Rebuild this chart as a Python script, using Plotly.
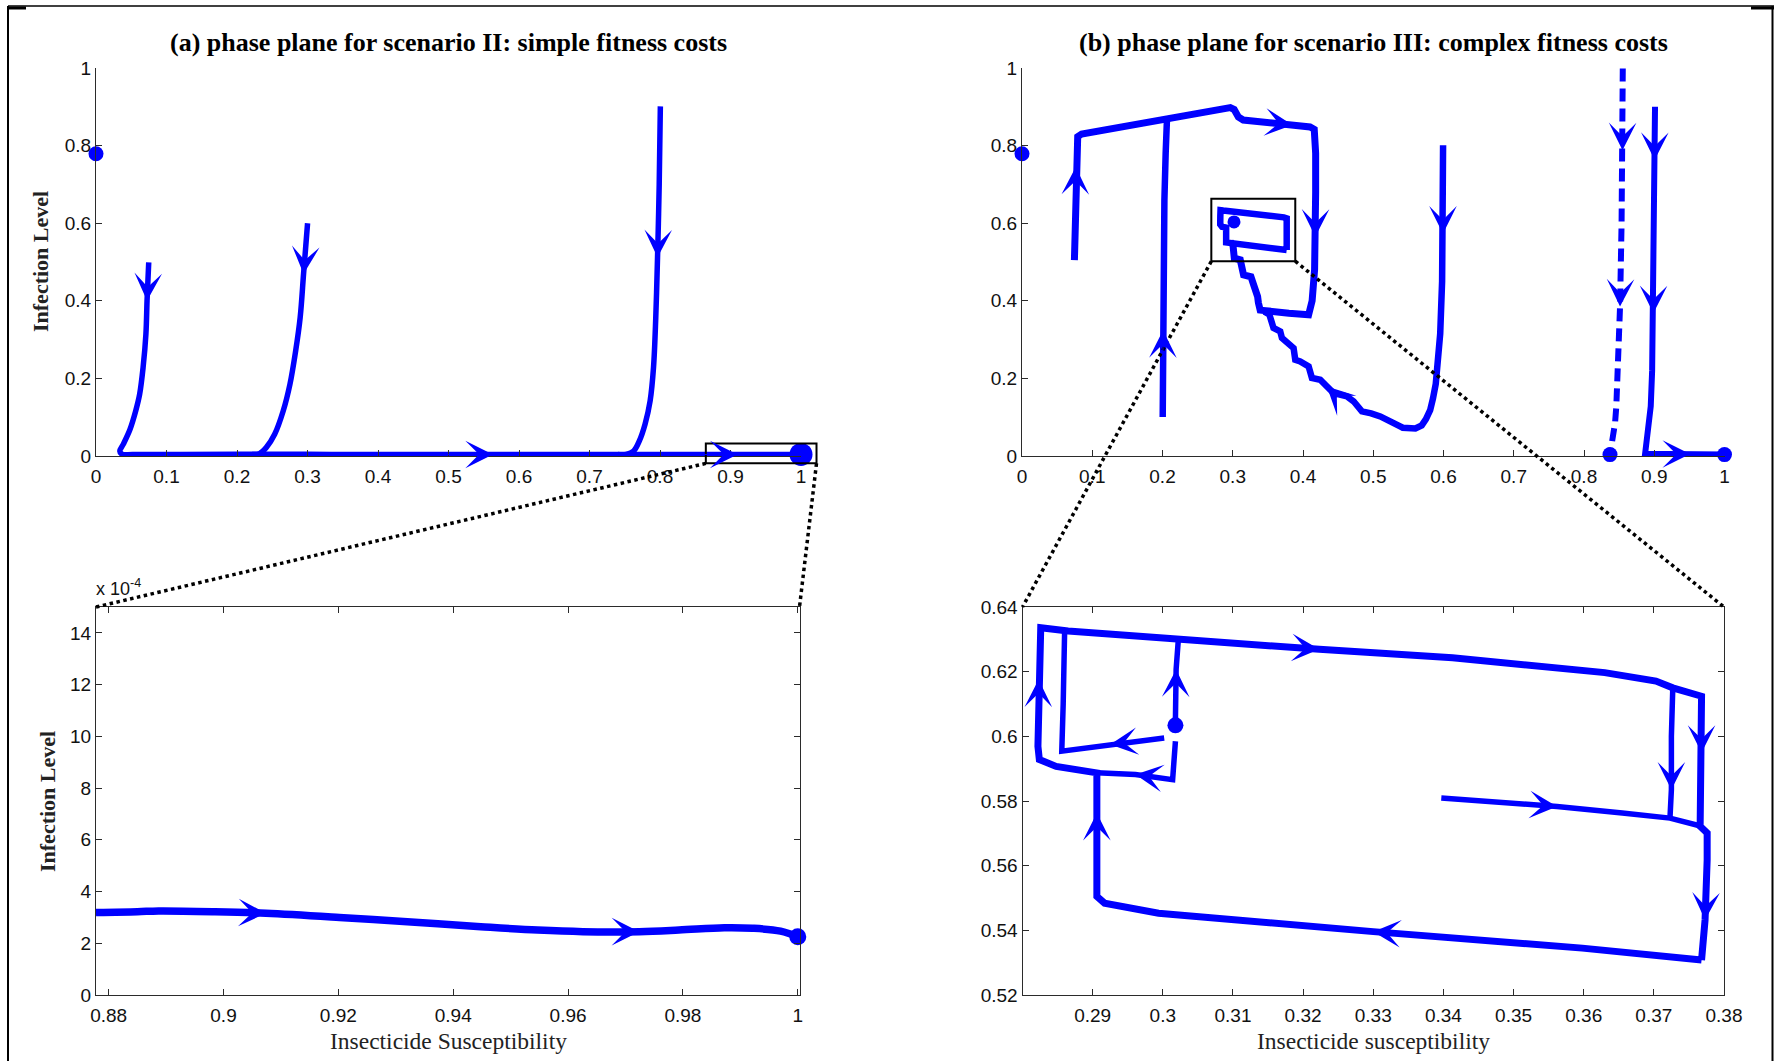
import plotly.graph_objects as go

W, H = 1774, 1061
BLUE = "#0000ff"
AXIS_COLOR = "#2b2b2b"
TICK_FONT = dict(family="Liberation Sans, Arial, sans-serif", size=19, color="#111111")
SERIF = "Liberation Serif, Times New Roman, serif"

# ---------------- panel (a): scenario II, full phase plane ----------------
a1_x = [0.0748, 0.0736, 0.0724, 0.0708, 0.0668, 0.0619, 0.0563, 0.0483, 0.0386, 0.0338,
        0.0370, 0.0520, 0.1200, 0.2000, 0.3000, 0.4000, 0.4800, 0.5630, 0.6500, 0.7500,
        0.8300, 0.9100, 0.9600, 1.0000]
a1_y = [0.499, 0.450, 0.400, 0.314, 0.228, 0.159, 0.116, 0.069, 0.030, 0.013,
        0.0045, 0.0040, 0.0040, 0.0042, 0.0042, 0.0040, 0.0040, 0.0040, 0.0040, 0.0040,
        0.0040, 0.0040, 0.0040, 0.0040]
a1_arrows = [2, 17, 21]

a2_x = [0.3001, 0.2975, 0.2944, 0.2896, 0.2832, 0.2751, 0.2655, 0.2534, 0.2414, 0.2317, 0.2212]
a2_y = [0.600, 0.540, 0.469, 0.357, 0.271, 0.185, 0.116, 0.056, 0.0215, 0.006, 0.004]
a2_arrows = [2]

a3_x = [0.8005, 0.7989, 0.7977, 0.7965, 0.7940, 0.7908, 0.7860, 0.7788, 0.7707, 0.7627, 0.7522, 0.7400]
a3_y = [0.901, 0.701, 0.600, 0.512, 0.357, 0.228, 0.142, 0.082, 0.039, 0.013, 0.0043, 0.004]
a3_arrows = [3]

a_eq_x = [0.0, 1.0]
a_eq_y = [0.779, 0.004]
a_eq_size = [15, 23]

# zoom window drawn on panel (a) and the values shown in its enlargement
a_win_x = [0.865, 1.022]
a_win_y = [-0.019, 0.032]

az_x = [0.8778, 0.8850, 0.8887, 0.8985, 0.9074, 0.9202, 0.9320, 0.9448, 0.9547, 0.9626,
        0.9724, 0.9793, 0.9872, 0.9921, 0.9970, 1.0000]
az_y_e4 = [3.19, 3.22, 3.25, 3.22, 3.16, 3.00, 2.83, 2.64, 2.51, 2.45,
           2.45, 2.51, 2.60, 2.58, 2.47, 2.25]          # infection level, units of 1e-4
az_arrows = [4, 10]
az_eq_x = [1.0]
az_eq_y_e4 = [2.25]

# ---------------- panel (b): scenario III ----------------
bA_x = [0.0746, 0.0755, 0.0765, 0.0780, 0.0793, 0.0850, 0.1500, 0.2064, 0.2600, 0.2965,
        0.3020, 0.3080, 0.3150, 0.3400, 0.3850, 0.4100, 0.4160, 0.4180, 0.4180, 0.4175,
        0.4165, 0.4130, 0.4100, 0.4080, 0.3800, 0.3450, 0.3390, 0.3365, 0.3354, 0.3300,
        0.3273, 0.3259, 0.3154, 0.3131, 0.3107, 0.3022, 0.3003, 0.2965]
bA_y = [0.505, 0.620, 0.745, 0.805, 0.823, 0.830, 0.852, 0.870, 0.885, 0.898,
        0.893, 0.874, 0.866, 0.862, 0.853, 0.848, 0.842, 0.780, 0.680, 0.565,
        0.480, 0.400, 0.375, 0.364, 0.368, 0.372, 0.376, 0.395, 0.411, 0.440,
        0.454, 0.462, 0.4668, 0.4925, 0.5054, 0.5097, 0.544, 0.5525]
bA_arrows = [2, 14, 19, 28]

bB_x = [0.2003, 0.2005, 0.2008, 0.2013, 0.2027, 0.2045, 0.2064]
bB_y = [0.1005, 0.220, 0.324, 0.450, 0.659, 0.780, 0.870]
bB_arrows = [2]

bC_x = [0.5994, 0.5993, 0.5992, 0.5980, 0.5953, 0.5920, 0.5890, 0.5850, 0.5810, 0.5750,
        0.5690, 0.5600, 0.5500, 0.5420, 0.5383, 0.5250, 0.5100, 0.4970, 0.4838, 0.4720,
        0.4625, 0.4435, 0.4340, 0.4245, 0.4127, 0.4080, 0.3960, 0.3890, 0.3866, 0.3771,
        0.3700, 0.3676, 0.3580, 0.3544, 0.3520, 0.3450]
bC_y = [0.8007, 0.700, 0.573, 0.450, 0.315, 0.240, 0.186, 0.148, 0.118, 0.095,
        0.079, 0.071, 0.070, 0.073, 0.0765, 0.090, 0.102, 0.110, 0.115, 0.141,
        0.1536, 0.1624, 0.179, 0.1966, 0.201, 0.2308, 0.2437, 0.248, 0.278, 0.291,
        0.304, 0.321, 0.330, 0.351, 0.365, 0.372]
bC_arrows = [2, 22]

bD_x = [0.8552, 0.8550, 0.8548, 0.8535, 0.8513, 0.8490, 0.8460, 0.8442, 0.8410, 0.8395, 0.8370]
bD_y = [0.9987, 0.900, 0.788, 0.600, 0.385, 0.229, 0.128, 0.085, 0.040, 0.0165, 0.0036]
bD_arrows = [2, 4]

bE_x = [0.9011, 0.9008, 0.9005, 0.8995, 0.8987, 0.8970, 0.8950, 0.8910, 0.8880, 0.8855,
        0.8870, 0.9200, 0.9510, 0.9800, 1.0000]
bE_y = [0.900, 0.830, 0.763, 0.550, 0.368, 0.220, 0.128, 0.070, 0.042, 0.012,
        0.006, 0.005, 0.005, 0.004, 0.0036]
bE_arrows = [2, 4, 12]

# limit cycle around the interior equilibrium (shown in both panels)
cyc_x = [0.3768, 0.3598, 0.3300, 0.3090, 0.2994, 0.2917, 0.2906, 0.2906, 0.2906, 0.2848,
         0.2824, 0.2822, 0.2823, 0.2826, 0.2865, 0.3022, 0.3223, 0.3413, 0.3630, 0.3703,
         0.3727, 0.3768, 0.3768, 0.3766, 0.3776, 0.3776, 0.3773, 0.3768]
cyc_y = [0.5308, 0.5345, 0.5396, 0.5432, 0.5453, 0.5484, 0.5505, 0.5763, 0.5887, 0.5907,
         0.5928, 0.5969, 0.6176, 0.6336, 0.6326, 0.6300, 0.6269, 0.6243, 0.6197, 0.6171,
         0.6150, 0.6124, 0.5949, 0.5722, 0.5701, 0.5618, 0.5432, 0.5308]
cyc_arrows = [2, 7, 12, 16, 22, 26]

# short trajectories near the interior equilibrium (enlargement only)
br1_x = [0.3018, 0.3014, 0.2961, 0.2906]
br1_y = [0.5985, 0.5866, 0.5882, 0.5887]
br1_arrows = [2]
br2_x = [0.3018, 0.3019, 0.3022]
br2_y = [0.6052, 0.6207, 0.6295]
br2_arrows = [1]
br3_x = [0.3002, 0.2925, 0.2856, 0.2858, 0.2860]
br3_y = [0.5995, 0.5975, 0.5954, 0.6100, 0.6320]
br3_arrows = [1]
br4_x = [0.3397, 0.3562, 0.3655, 0.3723, 0.3768]
br4_y = [0.5809, 0.5783, 0.5763, 0.5747, 0.5722]
br4_arrows = [1]
br5_x = [0.3727, 0.3725, 0.3725, 0.3723]
br5_y = [0.6150, 0.6000, 0.5835, 0.5747]
br5_arrows = [2]

b_eq_x = [0.0, 0.837, 1.0]
b_eq_y = [0.779, 0.0036, 0.0036]
b_int_eq_x = [0.3018]
b_int_eq_y = [0.6034]

b_win_x = [0.2695, 0.389]
b_win_y = [0.502, 0.663]

# ---------------- axes geometry ----------------
DOM = {
    "a":  ([96 / W, 801 / W], [1 - 456 / H, 1 - 68 / H]),
    "b":  ([1022 / W, 1724.5 / W], [1 - 456 / H, 1 - 68 / H]),
    "az": ([96 / W, 799.5 / W], [1 - 995 / H, 1 - 607 / H]),
    "bz": ([1022.5 / W, 1724 / W], [1 - 995 / H, 1 - 607 / H]),
}
RNG = {
    "a":  ([0, 1], [0, 1]),
    "b":  ([0, 1], [0, 1]),
    "az": ([0.8778, 1.0003], [0, 15]),
    "bz": ([0.28, 0.38], [0.52, 0.64]),
}
REF = {"a": ("x", "y"), "b": ("x2", "y2"), "az": ("x3", "y3"), "bz": ("x4", "y4")}

fig = go.Figure(layout=dict(template="none"))


def path(xs, ys, p, width, dash="solid", shape="linear"):
    xr, yr = REF[p]
    fig.add_trace(go.Scatter(x=xs, y=ys, xaxis=xr, yaxis=yr, mode="lines",
                             line=dict(color=BLUE, width=width, dash=dash, shape=shape),
                             hoverinfo="skip", showlegend=False))


def dots(xs, ys, p, size):
    xr, yr = REF[p]
    fig.add_trace(go.Scatter(x=xs, y=ys, xaxis=xr, yaxis=yr, mode="markers",
                             marker=dict(color=BLUE, size=size, opacity=1, line=dict(width=0)),
                             cliponaxis=False, hoverinfo="skip", showlegend=False))


def arrows(xs, ys, idxs, p, frac=1.0, size=4.6):
    xr, yr = REF[p]
    for i in idxs:
        fig.add_annotation(x=xs[i], y=ys[i],
                           ax=xs[i] - frac * (xs[i] - xs[i - 1]),
                           ay=ys[i] - frac * (ys[i] - ys[i - 1]),
                           xref=xr, yref=yr, axref=xr, ayref=yr, text="",
                           showarrow=True, arrowhead=3, arrowsize=size, arrowwidth=1,
                           arrowcolor=BLUE, standoff=0)


def to_paper(v, p, axis):
    k = 0 if axis == "x" else 1
    d, r = DOM[p][k], RNG[p][k]
    return d[0] + (v - r[0]) / (r[1] - r[0]) * (d[1] - d[0])


# panel (a)
for xs, ys, ar in [(a1_x, a1_y, a1_arrows), (a2_x, a2_y, a2_arrows), (a3_x, a3_y, a3_arrows)]:
    path(xs, ys, "a", 5.5, shape="spline")
    arrows(xs, ys, ar, "a")
dots(a_eq_x, a_eq_y, "a", a_eq_size)

# panel (a) enlargement
path(az_x, az_y_e4, "az", 7.5, shape="spline")
arrows(az_x, az_y_e4, az_arrows, "az")
dots(az_eq_x, az_eq_y_e4, "az", 17)

# panel (b)
for xs, ys, ar, w in [(bA_x, bA_y, bA_arrows, 7), (bB_x, bB_y, bB_arrows, 6.5),
                      (bC_x, bC_y, bC_arrows, 6.5), (bE_x, bE_y, bE_arrows, 6),
                      (cyc_x, cyc_y, [], 6.5)]:
    path(xs, ys, "b", w)
    arrows(xs, ys, ar, "b")
path(bD_x, bD_y, "b", 6, dash="13px,7px")
arrows(bD_x, bD_y, bD_arrows, "b", frac=0.2)
dots(b_eq_x, b_eq_y, "b", 15)
dots(b_int_eq_x, b_int_eq_y, "b", 13)

# panel (b) enlargement
path(cyc_x, cyc_y, "bz", 7)
arrows(cyc_x, cyc_y, cyc_arrows, "bz")
for xs, ys, ar in [(br1_x, br1_y, br1_arrows), (br2_x, br2_y, br2_arrows), (br3_x, br3_y, br3_arrows),
                   (br4_x, br4_y, br4_arrows), (br5_x, br5_y, br5_arrows)]:
    path(xs, ys, "bz", 5.5)
    arrows(xs, ys, ar, "bz")
dots(b_int_eq_x, b_int_eq_y, "bz", 16)


# ---------------- axes ----------------
def axis_common():
    return dict(showgrid=False, zeroline=False, showline=True, linecolor=AXIS_COLOR,
                linewidth=1, ticks="inside", ticklen=6, tickwidth=1, tickcolor=AXIS_COLOR,
                tickfont=TICK_FONT, fixedrange=True, automargin=False)


def fmt(v):
    s = ("%.2f" % v).rstrip("0").rstrip(".")
    return s


top_x_ticks = [i / 10 for i in range(11)]
top_y_ticks = [i / 5 for i in range(6)]
az_x_ticks = [0.88, 0.90, 0.92, 0.94, 0.96, 0.98, 1.0]
az_y_ticks = list(range(0, 16, 2))
bz_x_ticks = [0.29, 0.30, 0.31, 0.32, 0.33, 0.34, 0.35, 0.36, 0.37, 0.38]
bz_y_ticks = [0.52, 0.54, 0.56, 0.58, 0.60, 0.62, 0.64]

layout_axes = {}
for n, p, xt, yt, box in [(1, "a", top_x_ticks, top_y_ticks, False),
                          (2, "b", top_x_ticks, top_y_ticks, False),
                          (3, "az", az_x_ticks, az_y_ticks, True),
                          (4, "bz", bz_x_ticks, bz_y_ticks, True)]:
    sx = "" if n == 1 else str(n)
    xa = axis_common()
    ya = axis_common()
    xa.update(domain=DOM[p][0], range=RNG[p][0], anchor="y" + sx,
              tickvals=xt, ticktext=[fmt(v) for v in xt], ticklabelstandoff=3)
    ya.update(domain=DOM[p][1], range=RNG[p][1], anchor="x" + sx,
              tickvals=yt, ticktext=[fmt(v) for v in yt])
    if box:
        xa["mirror"] = "ticks"
        ya["mirror"] = "ticks"
    layout_axes["xaxis" + sx] = xa
    layout_axes["yaxis" + sx] = ya

fig.update_layout(**layout_axes)

# ---------------- shapes: zoom windows, connectors, page frame ----------------
shapes = []
for p, wx, wy, zp in [("a", a_win_x, a_win_y, "az"), ("b", b_win_x, b_win_y, "bz")]:
    x0, x1 = to_paper(wx[0], p, "x"), to_paper(wx[1], p, "x")
    y0, y1 = to_paper(wy[0], p, "y"), to_paper(wy[1], p, "y")
    shapes.append(dict(type="rect", xref="paper", yref="paper", x0=x0, x1=x1, y0=y0, y1=y1,
                       line=dict(color="black", width=2), layer="above"))
    zx0, zx1 = DOM[zp][0]
    zy1 = DOM[zp][1][1]
    for sx_, ex_ in [(x0, zx0), (x1, zx1)]:
        shapes.append(dict(type="line", xref="paper", yref="paper", x0=sx_, y0=y0, x1=ex_, y1=zy1,
                           line=dict(color="black", width=3.5, dash="3.5px,3.5px"), layer="above"))

# page frame
shapes += [
    dict(type="line", xref="paper", yref="paper", x0=8 / W, x1=1, y0=1 - 6 / H, y1=1 - 6 / H,
         line=dict(color="black", width=1.5)),
    dict(type="line", xref="paper", yref="paper", x0=8 / W, x1=8 / W, y0=0, y1=1 - 6 / H,
         line=dict(color="black", width=2)),
    dict(type="line", xref="paper", yref="paper", x0=1772.5 / W, x1=1772.5 / W, y0=0, y1=1 - 6 / H,
         line=dict(color="black", width=2)),
    dict(type="line", xref="paper", yref="paper", x0=8 / W, x1=26 / W, y0=1 - 8 / H, y1=1 - 8 / H,
         line=dict(color="black", width=3)),
    dict(type="line", xref="paper", yref="paper", x0=1751 / W, x1=1, y0=1 - 8 / H, y1=1 - 8 / H,
         line=dict(color="black", width=3)),
]

# ---------------- text ----------------
title_font = dict(family=SERIF, size=26, color="black", weight="bold")
ylab_font = dict(family=SERIF, size=22, color="#222222", weight="bold")
xlab_font = dict(family=SERIF, size=23.5, color="#222222")

texts = [
    dict(x=448 / W, y=1 - 42 / H, text="(a) phase plane for scenario II: simple fitness costs", font=title_font),
    dict(x=1373 / W, y=1 - 42 / H, text="(b) phase plane for scenario III: complex fitness costs", font=title_font),
    dict(x=41 / W, y=1 - 262 / H, text="Infection Level", font=ylab_font, textangle=-90),
    dict(x=47 / W, y=1 - 802 / H, text="Infection Level", font=ylab_font, textangle=-90),
    dict(x=448 / W, y=1 - 1041 / H, text="Insecticide Susceptibility", font=xlab_font),
    dict(x=1373 / W, y=1 - 1041 / H, text="Insecticide susceptibility", font=xlab_font),
]
for t in texts:
    fig.add_annotation(xref="paper", yref="paper", showarrow=False, xanchor="center",
                       yanchor="middle", **t)
fig.add_annotation(xref="paper", yref="paper", x=94 / W, y=1 - 601 / H, xanchor="left",
                   yanchor="bottom", showarrow=False, text="x 10<sup>-4</sup>",
                   font=dict(family="Liberation Sans, Arial, sans-serif", size=18, color="#111111"))

fig.update_layout(width=W, height=H, autosize=False,
                  margin=dict(l=0, r=0, t=0, b=0, pad=0, autoexpand=False),
                  paper_bgcolor="white", plot_bgcolor="white",
                  showlegend=False, shapes=shapes)

# pin the chart to the window's top-left corner
fig.write_html("out.html",
               post_script="document.body.style.margin='0px';"
                           "document.documentElement.style.overflow='hidden';"
                           "var d=document.getElementById('{plot_id}');"
                           "d.style.position='fixed';d.style.left='0px';d.style.top='0px';")
